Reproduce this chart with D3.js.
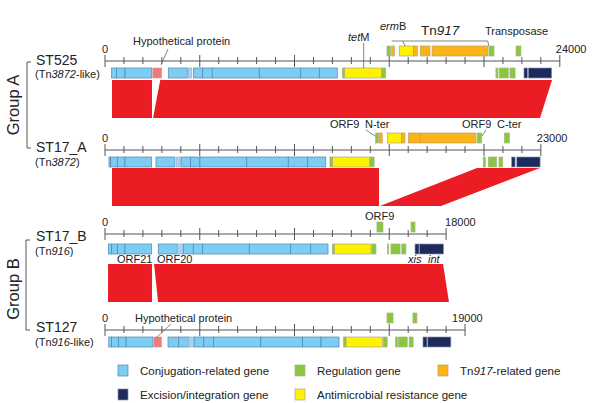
<!DOCTYPE html>
<html><head><meta charset="utf-8">
<script src="https://cdn.jsdelivr.net/npm/d3@7"></script>
<style>
body{margin:0;background:#fff;}
svg{display:block;font-family:"Liberation Sans",Arial,sans-serif;}
</style></head>
<body><svg id="c" width="600" height="403"></svg>
<script>
// ---------- data ----------
const rowNames = ["ST525", "ST17_A", "ST17_B", "ST127"];
const rowSubs = [["(Tn", "3872", "-like)"], ["(Tn", "3872", ")"], ["(Tn", "916", ")"], ["(Tn", "916", "-like)"]];
const rowLengths = [24000, 23000, 18000, 19000];
// genes: [start, end, type, level]  level 0 = on the line, 1 = inserted above
// c conjugation, l conjugation (pale), h hypothetical, r regulation, t Tn917, a antimicrobial, e excision/integration
const genesST525 = [
  [350,610,"c",0],[610,1055,"c",0],[1055,2465,"c",0],[2520,2990,"h",0],
  [3340,4340,"c",0],[4395,4575,"l",0],[4660,5155,"c",0],[5155,5660,"c",0],[5660,8140,"c",0],
  [8140,10330,"c",0],[10330,11310,"c",0],[11310,12260,"c",0],
  [12530,12650,"r",0],[12650,14600,"a",0],[14600,14810,"r",0],
  [20630,20740,"r",0],[20810,21280,"r",0],[21370,21640,"r",0],
  [22110,22290,"e",0],[22340,23570,"e",0],
  [14880,15060,"r",1],[15130,15270,"t",1],[15530,16270,"a",1],[16270,16480,"t",1],
  [16640,17150,"t",1],[17260,20200,"t",1],[20260,20530,"r",1],[21690,21950,"r",1]
];
const genesST17A = [
  [210,300,"c",0],[300,650,"c",0],[650,1055,"c",0],[1055,2465,"c",0],
  [2690,3690,"c",0],[3760,3960,"l",0],[4010,4520,"c",0],[4520,5010,"c",0],[5010,7480,"c",0],
  [7480,9670,"c",0],[9670,10680,"c",0],[10680,11650,"c",0],
  [11870,12010,"r",0],[12010,13950,"a",0],[13980,14200,"r",0],
  [19960,20070,"r",0],[20230,20670,"r",0],[20790,20990,"r",0],
  [21460,21640,"e",0],[21730,22960,"e",0],
  [14280,14420,"r",1],[14460,14630,"t",1],[14900,15660,"a",1],[15660,15830,"t",1],
  [16010,16590,"t",1],[16620,19580,"t",1],[19650,19880,"r",1],[21070,21340,"r",1]
];
const genesST17B = [
  [175,355,"c",0],[355,650,"c",0],[650,1055,"c",0],[1055,2465,"c",0],
  [2810,3815,"c",0],[3815,4130,"l",0],[4130,4660,"c",0],[4660,5155,"c",0],[5155,7615,"c",0],
  [7615,9800,"c",0],[9800,10855,"c",0],[10855,11770,"c",0],
  [11995,12100,"r",0],[12100,14040,"a",0],[14075,14300,"r",0],
  [14900,14970,"r",0],[15090,15570,"r",0],[15660,15880,"r",0],
  [16360,16570,"e",0],[16590,17860,"e",0],
  [14350,14670,"r",1],[16150,16360,"r",1]
];
const genesST127 = [
  [200,340,"c",0],[340,710,"c",0],[710,1110,"c",0],[1110,2530,"c",0],[2575,2980,"h",0],
  [3325,3895,"c",0],[3895,4405,"c",0],[4405,4705,"l",0],[4705,5215,"c",0],[5215,5725,"c",0],
  [5725,8220,"c",0],[8220,10430,"c",0],[10430,11400,"c",0],[11400,12350,"c",0],
  [12585,12720,"r",0],[12720,14650,"a",0],[14695,14890,"r",0],
  [15335,15440,"r",0],[15490,15950,"r",0],[16050,16260,"r",0],
  [16780,16990,"e",0],[17030,18250,"e",0],
  [14880,15200,"r",1],[16250,16460,"r",1]
];
const rowGenes = [genesST525, genesST17A, genesST17B, genesST127];
// homology blocks between consecutive rows: [topStart, topEnd, bottomStart, bottomEnd]
const ribbonsAB = [[370,2480,370,2480],[2915,23590,2535,22955]];
const ribbonsBC = [[370,14460,370,14460],[19630,22955,14510,17730]];
const ribbonsCD = [[160,2480,160,2480],[2590,17840,2800,18150]];
const ribbons = [ribbonsAB, ribbonsBC, ribbonsCD];
const legendTypes = ["c","r","t","e","a"];
const legendLabels = [["Conjugation-related gene"],["Regulation gene"],["Tn","917","-related gene"],["Excision/integration gene"],["Antimicrobial resistance gene"]];

// ---------- style / layout ----------
const color = {c:"#7dccf1", l:"#a9d3ea", h:"#f07a7a", r:"#8cc63f", t:"#fbb416", a:"#fff200", e:"#1c2a5e"};
const stroke = {c:"#4f86b4", l:"#8fb6cf", h:"#d9a0a0", r:"#9fb98a", t:"#b9a070", a:"#a9a58a", e:"#8b93ad"};
const axisY = [61, 150, 234, 330];
const geneY = [68, 157, 244, 337];
const upperY = [46, 133, 222, 313];
const nameY = [65, 152, 241, 332];
const subY = [78, 166, 255, 346];
const geneH = 10;
const ribbonY = [[80,118],[168,206],[264,302]];
const endLabelDx = [-4, -4, -1, -13];
const pxPerBp = 0.01895, x0 = 105;

const svg = d3.select("#c");
const scales = rowLengths.map(L => d3.scaleLinear().domain([0, L]).range([x0, x0 + L*pxPerBp]));

// ribbons
ribbons.forEach((rb, i) => {
  const sTop = scales[i], sBot = scales[i+1];
  const [y1, y2] = ribbonY[i];
  svg.append("g").selectAll("path").data(rb).join("path")
    .attr("d", d => `M${sTop(d[0])},${y1}L${sTop(d[1])},${y1}L${sBot(d[3])},${y2}L${sBot(d[2])},${y2}Z`)
    .attr("fill", "#ec1c24");
});

// axes
rowLengths.forEach((L, i) => {
  const s = scales[i];
  const g = svg.append("g");
  g.append("line").attr("x1", s(0)).attr("x2", s(L)).attr("y1", axisY[i]).attr("y2", axisY[i])
    .attr("stroke", "#555").attr("stroke-width", 1);
  const ticks = d3.range(0, L + 1, 1000);
  g.selectAll("line.t").data(ticks).join("line").attr("class","t")
    .attr("x1", d => s(d)).attr("x2", d => s(d))
    .attr("y1", d => axisY[i] - (d % 5000 === 0 || d === L ? 6 : 4))
    .attr("y2", d => axisY[i] + (d % 5000 === 0 || d === L ? 6 : 3))
    .attr("stroke", "#555").attr("stroke-width", 1);
  g.append("text").attr("x", s(0)).attr("y", axisY[i] - 8).attr("text-anchor","middle")
    .attr("font-size", 11).attr("fill","#222").text("0");
  g.append("text").attr("x", s(L) + endLabelDx[i]).attr("y", axisY[i] - 8)
    .attr("font-size", 11).attr("fill","#222").text(String(L));
});

// genes
rowGenes.forEach((genes, i) => {
  const s = scales[i];
  svg.append("g").selectAll("rect").data(genes).join("rect")
    .attr("x", d => s(d[0])).attr("width", d => s(d[1]) - s(d[0]))
    .attr("y", d => d[3] ? upperY[i] : geneY[i]).attr("height", geneH)
    .attr("fill", d => color[d[2]]).attr("stroke", d => stroke[d[2]]).attr("stroke-width", 0.7);
});

// row labels
rowNames.forEach((n, i) => {
  svg.append("text").attr("x", 36).attr("y", nameY[i]).attr("font-size", 14).attr("fill","#222").text(n);
  const t = svg.append("text").attr("x", 35).attr("y", subY[i]).attr("font-size", 11).attr("fill","#222");
  rowSubs[i].forEach((p, k) => t.append("tspan").attr("font-style", k === 1 ? "italic" : "normal").text(p));
});

// group brackets
function bracket(x, yA, yB, label, cy) {
  svg.append("path").attr("d", `M${x+4},${yA}L${x},${yA}L${x},${yB}L${x+4},${yB}`)
    .attr("fill","none").attr("stroke","#555").attr("stroke-width",1);
  svg.append("text").attr("transform", `translate(19,${cy}) rotate(-90)`).attr("text-anchor","middle")
    .attr("font-size", 16.5).attr("fill","#222").text(label);
}
bracket(27, 62, 148, "Group A", 105);
bracket(26, 240, 330, "Group B", 289);

// annotations
function txt(x, y, parts, size, anchor) {
  const t = svg.append("text").attr("x", x).attr("y", y).attr("font-size", size || 11).attr("fill","#222")
    .attr("text-anchor", anchor || "start");
  parts.forEach(p => t.append("tspan").attr("font-style", p[1] ? "italic" : "normal").text(p[0]));
}
function ln(x1,y1,x2,y2){ svg.append("line").attr("x1",x1).attr("y1",y1).attr("x2",x2).attr("y2",y2).attr("stroke","#666").attr("stroke-width",0.8); }
const s0 = scales[0];
txt(133, 45, [["Hypothetical protein"]]);
ln(168, 49, 161, 65);
txt(348, 41, [["tet",1],["M"]]);
ln(s0(13650), 43, s0(13650), 68);
txt(380, 30, [["erm",1],["B"]]);
txt(421, 35, [["Tn"],["917",1]], 13.5);
ln(s0(15130), 41, s0(20200), 41);
ln(s0(15700), 41, s0(15850), 46);
txt(485, 35, [["Transposase"]]);
ln(s0(20200), 41, s0(20250), 46);
txt(330, 128, [["ORF9"]]); txt(365, 128, [["N-ter"]]);
ln(366, 130, 375, 136);
txt(462, 128, [["ORF9"]]); txt(497, 128, [["C-ter"]]);
ln(486, 130, 482, 136);
txt(365, 220, [["ORF9"]]);
txt(117, 263, [["ORF21"]]); txt(157, 263, [["ORF20"]]);
txt(408, 263, [["xis",1]]); txt(428, 263, [["int",1]]);
txt(135, 322, [["Hypothetical protein"]]);
ln(171, 324, 156, 338);

// legend
const legX = [118, 295, 438, 118, 295];
const legY = [365, 365, 365, 389, 389];
legendTypes.forEach((t, i) => {
  svg.append("rect").attr("x", legX[i]).attr("y", legY[i]).attr("width", 10).attr("height", 11)
    .attr("fill", color[t]).attr("stroke", stroke[t]).attr("stroke-width", 0.7);
  const tx = svg.append("text").attr("x", legX[i] + 22).attr("y", legY[i] + 9.5).attr("font-size", 11.5).attr("fill","#222");
  legendLabels[i].forEach((p, k) => tx.append("tspan").attr("font-style", k === 1 ? "italic" : "normal").text(p));
});
</script></body></html>
